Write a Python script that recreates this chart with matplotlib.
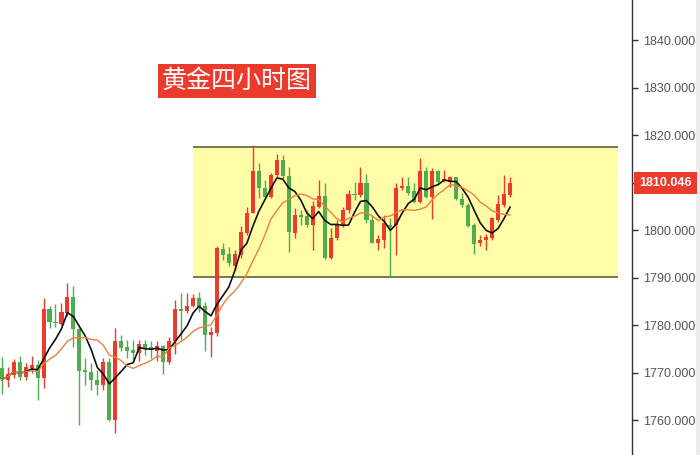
# 黄金四小时图 - candlestick with range box

import numpy as np
import pandas as pd
import matplotlib
matplotlib.use("Agg")
import matplotlib.pyplot as plt
from matplotlib.patches import Rectangle

opens = [1771.0, 1768.5, 1769.6, 1772.3, 1769.1, 1771.0, 1771.7, 1768.9, 1783.4, 1780.8,
         1780.3, 1782.6, 1785.9, 1779.2, 1770.5, 1770.1, 1768.5, 1767.5, 1772.3, 1760.0,
         1776.6, 1775.4, 1774.8, 1774.1, 1776.1, 1775.4, 1774.7, 1775.7, 1772.2, 1776.6,
         1783.4, 1783.1, 1784.0, 1785.7, 1784.1, 1777.9, 1778.4, 1796.1, 1795.0, 1792.4,
         1794.8, 1799.4, 1803.7, 1812.6, 1808.9, 1807.1, 1811.7, 1814.8, 1811.5, 1799.5,
         1803.3, 1803.1, 1801.2, 1805.0, 1807.3, 1794.1, 1798.4, 1801.2, 1804.2, 1807.7,
         1807.5, 1809.9, 1802.2, 1797.4, 1798.0, 1801.2, 1801.2, 1808.9, 1809.4, 1808.2,
         1805.9, 1812.6, 1807.0, 1812.6, 1810.5, 1810.2, 1811.2, 1806.6, 1805.4, 1801.2,
         1797.3, 1798.0, 1798.4, 1802.2, 1805.4, 1807.5]
highs = [1773.4, 1771.3, 1772.9, 1773.6, 1772.0, 1773.6, 1772.7, 1785.7, 1784.1, 1784.5,
         1784.7, 1789.0, 1788.3, 1779.4, 1773.1, 1772.0, 1770.6, 1773.1, 1773.1, 1779.4,
         1778.0, 1776.9, 1776.9, 1776.9, 1776.9, 1776.6, 1776.6, 1775.9, 1777.6, 1785.4,
         1786.8, 1786.9, 1786.6, 1787.1, 1785.0, 1779.7, 1796.8, 1797.3, 1796.5, 1795.9,
         1800.9, 1805.0, 1818.0, 1814.1, 1810.6, 1812.0, 1816.1, 1815.9, 1813.4, 1804.7,
         1804.3, 1804.3, 1806.1, 1810.6, 1809.9, 1800.5, 1802.2, 1805.0, 1808.5, 1810.1,
         1813.4, 1811.9, 1803.3, 1799.1, 1803.3, 1802.6, 1809.9, 1811.2, 1811.3, 1809.9,
         1815.2, 1813.4, 1813.1, 1812.7, 1812.7, 1811.5, 1811.3, 1807.8, 1805.7, 1801.5,
         1799.1, 1799.3, 1802.9, 1807.5, 1811.7, 1811.3]
lows = [1765.5, 1767.1, 1768.9, 1768.5, 1768.5, 1769.9, 1764.3, 1766.8, 1779.4, 1779.7,
        1780.1, 1781.9, 1775.5, 1759.1, 1767.5, 1766.4, 1765.4, 1766.4, 1759.8, 1757.3,
        1774.5, 1773.1, 1772.7, 1772.4, 1773.8, 1773.1, 1772.4, 1769.7, 1771.9, 1774.0,
        1776.9, 1782.7, 1783.8, 1782.9, 1774.5, 1773.4, 1777.8, 1793.8, 1792.4, 1791.7,
        1794.1, 1799.1, 1803.6, 1806.8, 1806.6, 1806.8, 1811.3, 1811.0, 1795.5, 1798.4,
        1801.2, 1800.8, 1795.9, 1804.7, 1793.9, 1793.9, 1798.0, 1800.8, 1803.7, 1806.4,
        1807.1, 1801.6, 1797.3, 1795.9, 1796.3, 1790.3, 1794.8, 1808.5, 1807.5, 1805.7,
        1805.7, 1806.8, 1802.4, 1809.6, 1810.1, 1809.2, 1806.4, 1805.0, 1800.8, 1795.1,
        1796.6, 1795.9, 1798.0, 1801.8, 1805.0, 1807.1]
closes = [1768.6, 1769.8, 1772.3, 1769.1, 1771.2, 1771.7, 1768.9, 1783.4, 1780.8, 1780.5,
          1782.8, 1785.9, 1779.2, 1770.3, 1770.2, 1768.4, 1767.5, 1772.3, 1760.0, 1776.6,
          1775.2, 1774.7, 1774.1, 1776.1, 1775.2, 1774.8, 1775.7, 1772.2, 1776.7, 1783.4,
          1783.1, 1784.1, 1785.7, 1783.8, 1777.9, 1778.5, 1796.3, 1794.8, 1793.1, 1795.1,
          1799.7, 1803.7, 1812.6, 1808.9, 1807.1, 1811.7, 1814.8, 1811.5, 1799.7, 1803.3,
          1802.9, 1801.2, 1805.2, 1807.3, 1794.1, 1798.4, 1801.2, 1804.3, 1807.6, 1807.4,
          1809.9, 1802.2, 1797.4, 1798.2, 1801.5, 1800.7, 1808.9, 1809.4, 1807.8, 1805.9,
          1812.6, 1807.0, 1812.6, 1810.1, 1810.8, 1811.2, 1806.6, 1805.4, 1800.9, 1797.2,
          1798.0, 1798.5, 1802.6, 1805.6, 1807.7, 1810.046]

range_top = 1817.6
range_bottom = 1790.2
price_ticks = [1760, 1770, 1780, 1790, 1800, 1810, 1820, 1830, 1840]
title = "黄金四小时图"

UP = "#ec3b2c"
DOWN = "#4fad4f"

o = np.array(opens)
h = np.array(highs)
l = np.array(lows)
c = np.array(closes)
x = np.arange(len(c))

ma5 = pd.Series(c).rolling(5, min_periods=1).mean()
ma10 = pd.Series(c).rolling(10, min_periods=1).mean()

fig = plt.figure(figsize=(7, 4.55), dpi=100)
ax = fig.add_axes([0, 0, 632 / 700, 1])

# 区间框
ax.add_patch(Rectangle((32.0, range_bottom), 71.1, range_top - range_bottom,
                       facecolor="#fffca8", edgecolor="none", zorder=0))
ax.hlines([range_top, range_bottom], 32.0, 103.1, colors="#6e6b45", lw=1.3, zorder=1)

# K线
colors = np.where(c >= o, UP, DOWN)
ax.vlines(x, l, h, colors=colors, lw=1.0, zorder=2)
body_low = np.minimum(o, c)
body_h = np.maximum(np.abs(c - o), 0.3)
ax.bar(x, body_h, bottom=body_low, width=0.68, color=colors, zorder=3)

# 均线
ax.plot(x, ma5, color="#111111", lw=1.2, zorder=4)
ax.plot(x, ma10, color="#e8823a", lw=1.0, zorder=4)

ax.set_xlim(-0.28, 105.4)
ax.set_ylim(1752.7, 1848.5)

for s in ["top", "left", "bottom"]:
    ax.spines[s].set_visible(False)
ax.spines["right"].set_color("#333333")
ax.spines["right"].set_linewidth(1.0)
ax.set_xticks([])
ax.yaxis.tick_right()
ax.set_yticks(price_ticks)
# 1810 的刻度文字被最新价标签盖住
ax.set_yticklabels(["" if v == 1810 else f"{v:.3f}" for v in price_ticks],
                   family="Liberation Sans")
ax.tick_params(axis="y", direction="out", length=4, width=1, color="#333333",
               labelsize=9, labelcolor="#555555", pad=4)

# 最新价标签
ax.text(1.0 + 7 / 632, c[-1], f"{c[-1]:.3f}", transform=ax.get_yaxis_transform(),
        ha="left", va="center", color="white", fontsize=9, fontweight="bold",
        family="Liberation Sans",
        bbox=dict(boxstyle="square,pad=0.4", fc="#ec3b2c", ec="none"),
        zorder=10, clip_on=False)

# 右侧灰条
fig.patches.append(Rectangle((696 / 700, 0), 4 / 700, 1, transform=fig.transFigure,
                             facecolor="#ececec", edgecolor="none", zorder=-1))

fig.text(237 / 700, 1 - 81 / 455, title, ha="center", va="center", color="white",
         fontsize=18, family=["Noto Sans CJK SC", "DejaVu Sans"],
         bbox=dict(boxstyle="square,pad=0.15", fc="#ec3b2c", ec="none"))

fig.savefig("out.png", dpi=100)
